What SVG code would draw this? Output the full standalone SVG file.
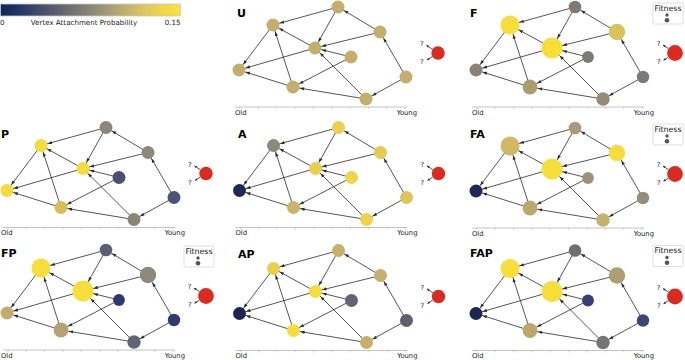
<svg xmlns="http://www.w3.org/2000/svg" xmlns:xlink="http://www.w3.org/1999/xlink" width="685" height="360" viewBox="0 0 685 360">
<style>
text{font-family:"DejaVu Sans","Liberation Sans",sans-serif;fill:#222}
.plabel{font-weight:bold;font-size:11px;fill:#000}
.ax{font-size:6.8px;fill:#222}
.q{font-size:7px;text-anchor:middle;fill:#222}
.e{stroke:#2b2b2b;stroke-width:0.8;fill:none}
.qe{stroke:#2b2b2b;stroke-width:0.8;fill:none;marker-end:url(#q)}
.axl{stroke:#b5b5b5;stroke-width:0.8}
.tk{stroke:#b5b5b5;stroke-width:0.6}
.new{fill:#dd2a1e}
.leg{fill:#fff;stroke:#d5d5d5;stroke-width:0.8}
.ld{fill:#555}
</style>
<defs>
<linearGradient id="cividis" x1="0" y1="0" x2="1" y2="0">
<stop offset="0" stop-color="#0d2650"/>
<stop offset="0.1" stop-color="#1f3566"/>
<stop offset="0.2" stop-color="#3d4a6b"/>
<stop offset="0.3" stop-color="#585e6e"/>
<stop offset="0.4" stop-color="#717173"/>
<stop offset="0.5" stop-color="#8a8678"/>
<stop offset="0.6" stop-color="#a59c74"/>
<stop offset="0.7" stop-color="#c2b26a"/>
<stop offset="0.8" stop-color="#dcc75b"/>
<stop offset="0.9" stop-color="#f0d849"/>
<stop offset="1" stop-color="#f8e23a"/>
</linearGradient>
<marker id="a7" viewBox="-20 -5 20 10" markerWidth="20" markerHeight="10" refX="0" refY="0" orient="auto" markerUnits="userSpaceOnUse" overflow="visible"><path d="M-11.2,-1.6 L-6.9,0 L-11.2,1.6 z" fill="#2b2b2b"/></marker>
<marker id="a8" viewBox="-20 -5 20 10" markerWidth="20" markerHeight="10" refX="0" refY="0" orient="auto" markerUnits="userSpaceOnUse" overflow="visible"><path d="M-12.2,-1.6 L-7.9,0 L-12.2,1.6 z" fill="#2b2b2b"/></marker>
<marker id="a9" viewBox="-20 -5 20 10" markerWidth="20" markerHeight="10" refX="0" refY="0" orient="auto" markerUnits="userSpaceOnUse" overflow="visible"><path d="M-13,-1.6 L-8.7,0 L-13,1.6 z" fill="#2b2b2b"/></marker>
<marker id="a10" viewBox="-20 -5 20 10" markerWidth="20" markerHeight="10" refX="0" refY="0" orient="auto" markerUnits="userSpaceOnUse" overflow="visible"><path d="M-14.2,-1.6 L-9.9,0 L-14.2,1.6 z" fill="#2b2b2b"/></marker>
<marker id="a11" viewBox="-20 -5 20 10" markerWidth="20" markerHeight="10" refX="0" refY="0" orient="auto" markerUnits="userSpaceOnUse" overflow="visible"><path d="M-15.2,-1.6 L-10.9,0 L-15.2,1.6 z" fill="#2b2b2b"/></marker>
<marker id="q" viewBox="-5 -3 5 6" markerWidth="5" markerHeight="6" refX="0" refY="0" orient="auto" markerUnits="userSpaceOnUse" overflow="visible"><path d="M-2.4,-1.2 L0,0 L-2.4,1.2 z" fill="#2b2b2b"/></marker>
</defs>

<g id="colorbar">
<rect x="0.4" y="4" width="180" height="12" fill="url(#cividis)" stroke="#c8c8c8" stroke-width="0.8"/>
<text x="0" y="25.2" style="font-size:7.1px">0</text>
<text x="84" y="25.2" style="font-size:7.1px" text-anchor="middle">Vertex Attachment Probability</text>
<text x="180.5" y="25.2" style="font-size:7.1px" text-anchor="end">0.15</text>
</g>

<g id="panel-labels">
<text class="plabel" x="237" y="17.2">U</text>
<text class="plabel" x="470" y="17.2">F</text>
<text class="plabel" x="1" y="137.6">P</text>
<text class="plabel" x="238" y="138">A</text>
<text class="plabel" x="470" y="138">FA</text>
<text class="plabel" x="1" y="257">FP</text>
<text class="plabel" x="238" y="258">AP</text>
<text class="plabel" x="470" y="257">FAP</text>
</g>

<!-- ============ U ============ -->
<g id="panel-U" transform="translate(0,0)">
<g id="U-axis"><line class="axl" x1="235" y1="107" x2="407" y2="107"/>
<path class="tk" d="M240,107v2M258.3,107v2M276.7,107v2M295,107v2M313.3,107v2M331.7,107v2M350,107v2M368.3,107v2M386.7,107v2M405,107v2"/>
<text class="ax" x="235" y="114.5">Old</text><text class="ax" x="417" y="114.5" text-anchor="end">Young</text></g>
<g id="U-connectors">
<line class="e" x1="338" y1="7" x2="273" y2="25" marker-end="url(#a7)"/>
<line class="e" x1="338" y1="7" x2="315" y2="48" marker-end="url(#a7)"/>
<line class="e" x1="380" y1="32" x2="338" y2="7" marker-end="url(#a7)"/>
<line class="e" x1="380" y1="32" x2="315" y2="48" marker-end="url(#a7)"/>
<line class="e" x1="315" y1="48" x2="273" y2="25" marker-end="url(#a7)"/>
<line class="e" x1="315" y1="48" x2="239" y2="70" marker-end="url(#a7)"/>
<line class="e" x1="273" y1="25" x2="239" y2="70" marker-end="url(#a7)"/>
<line class="e" x1="351" y1="57" x2="315" y2="48" marker-end="url(#a7)"/>
<line class="e" x1="351" y1="57" x2="293" y2="87" marker-end="url(#a7)"/>
<line class="e" x1="293" y1="87" x2="273" y2="25" marker-end="url(#a7)"/>
<line class="e" x1="293" y1="87" x2="239" y2="70" marker-end="url(#a7)"/>
<line class="e" x1="366" y1="99" x2="315" y2="48" marker-end="url(#a7)"/>
<line class="e" x1="366" y1="99" x2="293" y2="87" marker-end="url(#a7)"/>
<line class="e" x1="406" y1="77" x2="380" y2="32" marker-end="url(#a7)"/>
<line class="e" x1="406" y1="77" x2="366" y2="99" marker-end="url(#a7)"/>
</g>
<g id="U-n1"><circle cx="338" cy="7" r="6.5" fill="#c4ae6b"/></g>
<g id="U-n2"><circle cx="273" cy="25" r="6.5" fill="#c4ae6b"/></g>
<g id="U-n3"><circle cx="380" cy="32" r="6.5" fill="#c4ae6b"/></g>
<g id="U-n4"><circle cx="315" cy="48" r="6.5" fill="#c4ae6b"/></g>
<g id="U-n5"><circle cx="351" cy="57" r="6.5" fill="#c4ae6b"/></g>
<g id="U-n6"><circle cx="239" cy="70" r="6.5" fill="#c4ae6b"/></g>
<g id="U-n7"><circle cx="406" cy="77" r="6.5" fill="#c4ae6b"/></g>
<g id="U-n8"><circle cx="293" cy="87" r="6.5" fill="#c4ae6b"/></g>
<g id="U-n9"><circle cx="366" cy="99" r="6.5" fill="#c4ae6b"/></g>
<g id="U-new"><line class="qe" x1="432.4" y1="49.3" x2="426.5" y2="45.3"/><line class="qe" x1="432.3" y1="56.6" x2="427" y2="60"/>
<circle class="new" cx="438" cy="53" r="6.7"/><text class="q" x="421.8" y="46.2">?</text><text class="q" x="421.8" y="64.2">?</text></g>
</g>

<!-- ============ F ============ -->
<g id="panel-F" transform="translate(237,0)">
<g id="F-axis"><line class="axl" x1="235" y1="107" x2="407" y2="107"/>
<path class="tk" d="M240,107v2M258.3,107v2M276.7,107v2M295,107v2M313.3,107v2M331.7,107v2M350,107v2M368.3,107v2M386.7,107v2M405,107v2"/>
<text class="ax" x="235" y="114.5">Old</text><text class="ax" x="417" y="114.5" text-anchor="end">Young</text></g>
<g id="F-legend"><rect class="leg" x="416" y="3" width="30" height="21" rx="1.5"/><text x="431" y="10.6" style="font-size:7.8px" text-anchor="middle">Fitness</text><circle class="ld" cx="430" cy="15" r="1.7"/><circle class="ld" cx="430" cy="20.3" r="2.3"/></g>
<g id="F-connectors">
<line class="e" x1="338" y1="7" x2="273" y2="25" marker-end="url(#a10)"/>
<line class="e" x1="338" y1="7" x2="315" y2="48" marker-end="url(#a11)"/>
<line class="e" x1="380" y1="32" x2="338" y2="7" marker-end="url(#a7)"/>
<line class="e" x1="380" y1="32" x2="315" y2="48" marker-end="url(#a11)"/>
<line class="e" x1="315" y1="48" x2="273" y2="25" marker-end="url(#a10)"/>
<line class="e" x1="315" y1="48" x2="239" y2="70" marker-end="url(#a7)"/>
<line class="e" x1="273" y1="25" x2="239" y2="70" marker-end="url(#a7)"/>
<line class="e" x1="351" y1="57" x2="315" y2="48" marker-end="url(#a11)"/>
<line class="e" x1="351" y1="57" x2="293" y2="87" marker-end="url(#a8)"/>
<line class="e" x1="293" y1="87" x2="273" y2="25" marker-end="url(#a10)"/>
<line class="e" x1="293" y1="87" x2="239" y2="70" marker-end="url(#a7)"/>
<line class="e" x1="366" y1="99" x2="315" y2="48" marker-end="url(#a11)"/>
<line class="e" x1="366" y1="99" x2="293" y2="87" marker-end="url(#a8)"/>
<line class="e" x1="406" y1="77" x2="380" y2="32" marker-end="url(#a9)"/>
<line class="e" x1="406" y1="77" x2="366" y2="99" marker-end="url(#a7)"/>
</g>
<g id="F-n1"><circle cx="338" cy="7" r="6.3" fill="#7f7b74"/></g>
<g id="F-n2"><circle cx="273" cy="25" r="9.5" fill="#f7df3a"/></g>
<g id="F-n3"><circle cx="380" cy="32" r="8.2" fill="#d8c25a"/></g>
<g id="F-n4"><circle cx="315" cy="48" r="10.5" fill="#f7df3a"/></g>
<g id="F-n5"><circle cx="351" cy="57" r="5.9" fill="#7d7a74"/></g>
<g id="F-n6"><circle cx="239" cy="70" r="6.5" fill="#8b8372"/></g>
<g id="F-n7"><circle cx="406" cy="77" r="6.2" fill="#7e7b75"/></g>
<g id="F-n8"><circle cx="293" cy="87" r="7.4" fill="#ab9d6e"/></g>
<g id="F-n9"><circle cx="366" cy="99" r="6.7" fill="#968c74"/></g>
<g id="F-new"><line class="qe" x1="431.4" y1="48.6" x2="426" y2="45"/><line class="qe" x1="431.3" y1="57.2" x2="426.5" y2="60.3"/>
<circle class="new" cx="438" cy="53" r="7.9"/><text class="q" x="421.5" y="46">?</text><text class="q" x="421.8" y="64">?</text></g>
</g>

<!-- ============ P ============ -->
<g id="panel-P" transform="translate(-232,120.5)">
<g id="P-axis"><line class="axl" x1="235" y1="107" x2="407" y2="107"/>
<path class="tk" d="M240,107v2M258.3,107v2M276.7,107v2M295,107v2M313.3,107v2M331.7,107v2M350,107v2M368.3,107v2M386.7,107v2M405,107v2"/>
<text class="ax" x="233" y="114.5">Old</text><text class="ax" x="417" y="114.5" text-anchor="end">Young</text></g>
<g id="P-connectors">
<line class="e" x1="338" y1="7" x2="273" y2="25" marker-end="url(#a7)"/>
<line class="e" x1="338" y1="7" x2="315" y2="48" marker-end="url(#a7)"/>
<line class="e" x1="380" y1="32" x2="338" y2="7" marker-end="url(#a7)"/>
<line class="e" x1="380" y1="32" x2="315" y2="48" marker-end="url(#a7)"/>
<line class="e" x1="315" y1="48" x2="273" y2="25" marker-end="url(#a7)"/>
<line class="e" x1="315" y1="48" x2="239" y2="70" marker-end="url(#a7)"/>
<line class="e" x1="273" y1="25" x2="239" y2="70" marker-end="url(#a7)"/>
<line class="e" x1="351" y1="57" x2="315" y2="48" marker-end="url(#a7)"/>
<line class="e" x1="351" y1="57" x2="293" y2="87" marker-end="url(#a7)"/>
<line class="e" x1="293" y1="87" x2="273" y2="25" marker-end="url(#a7)"/>
<line class="e" x1="293" y1="87" x2="239" y2="70" marker-end="url(#a7)"/>
<line class="e" x1="366" y1="99" x2="315" y2="48" marker-end="url(#a7)"/>
<line class="e" x1="366" y1="99" x2="293" y2="87" marker-end="url(#a7)"/>
<line class="e" x1="406" y1="77" x2="380" y2="32" marker-end="url(#a7)"/>
<line class="e" x1="406" y1="77" x2="366" y2="99" marker-end="url(#a7)"/>
</g>
<g id="P-n1"><circle cx="338" cy="7" r="6.5" fill="#8b8675"/></g>
<g id="P-n2"><circle cx="273" cy="25" r="6.5" fill="#f5dc3b"/></g>
<g id="P-n3"><circle cx="380" cy="32" r="6.5" fill="#8d8877"/></g>
<g id="P-n4"><circle cx="315" cy="48" r="6.5" fill="#f5dc3b"/></g>
<g id="P-n5"><circle cx="351" cy="57" r="6.5" fill="#4a5073"/></g>
<g id="P-n6"><circle cx="239" cy="70" r="6.5" fill="#f5dc3b"/></g>
<g id="P-n7"><circle cx="406" cy="77" r="6.5" fill="#4c5376"/></g>
<g id="P-n8"><circle cx="293" cy="87" r="6.5" fill="#d6c055"/></g>
<g id="P-n9"><circle cx="366" cy="99" r="6.5" fill="#8b8674"/></g>
<g id="P-new"><line class="qe" x1="432.4" y1="49.3" x2="426.5" y2="45.3"/><line class="qe" x1="432.3" y1="56.6" x2="427" y2="60"/>
<circle class="new" cx="438" cy="53" r="6.7"/><text class="q" x="421.8" y="46.2">?</text><text class="q" x="421.8" y="64.2">?</text></g>
</g>

<!-- ============ A ============ -->
<g id="panel-A" transform="translate(0.5,120.5)">
<g id="A-axis"><line class="axl" x1="235" y1="107" x2="407" y2="107"/>
<path class="tk" d="M240,107v2M258.3,107v2M276.7,107v2M295,107v2M313.3,107v2M331.7,107v2M350,107v2M368.3,107v2M386.7,107v2M405,107v2"/>
<text class="ax" x="235" y="114.5">Old</text><text class="ax" x="417" y="114.5" text-anchor="end">Young</text></g>
<g id="A-connectors">
<line class="e" x1="338" y1="7" x2="273" y2="25" marker-end="url(#a7)"/>
<line class="e" x1="338" y1="7" x2="315" y2="48" marker-end="url(#a7)"/>
<line class="e" x1="380" y1="32" x2="338" y2="7" marker-end="url(#a7)"/>
<line class="e" x1="380" y1="32" x2="315" y2="48" marker-end="url(#a7)"/>
<line class="e" x1="315" y1="48" x2="273" y2="25" marker-end="url(#a7)"/>
<line class="e" x1="315" y1="48" x2="239" y2="70" marker-end="url(#a7)"/>
<line class="e" x1="273" y1="25" x2="239" y2="70" marker-end="url(#a7)"/>
<line class="e" x1="351" y1="57" x2="315" y2="48" marker-end="url(#a7)"/>
<line class="e" x1="351" y1="57" x2="293" y2="87" marker-end="url(#a7)"/>
<line class="e" x1="293" y1="87" x2="273" y2="25" marker-end="url(#a7)"/>
<line class="e" x1="293" y1="87" x2="239" y2="70" marker-end="url(#a7)"/>
<line class="e" x1="366" y1="99" x2="315" y2="48" marker-end="url(#a7)"/>
<line class="e" x1="366" y1="99" x2="293" y2="87" marker-end="url(#a7)"/>
<line class="e" x1="406" y1="77" x2="380" y2="32" marker-end="url(#a7)"/>
<line class="e" x1="406" y1="77" x2="366" y2="99" marker-end="url(#a7)"/>
</g>
<g id="A-n1"><circle cx="338" cy="7" r="6.5" fill="#ead04c"/></g>
<g id="A-n2"><circle cx="273" cy="25" r="6.5" fill="#8d8878"/></g>
<g id="A-n3"><circle cx="380" cy="32" r="6.5" fill="#e3cb54"/></g>
<g id="A-n4"><circle cx="315" cy="48" r="6.5" fill="#e8cf4c"/></g>
<g id="A-n5"><circle cx="351" cy="57" r="6.5" fill="#efd649"/></g>
<g id="A-n6"><circle cx="239" cy="70" r="6.5" fill="#1e2a55"/></g>
<g id="A-n7"><circle cx="406" cy="77" r="6.5" fill="#dcc55a"/></g>
<g id="A-n8"><circle cx="293" cy="87" r="6.5" fill="#c9b565"/></g>
<g id="A-n9"><circle cx="366" cy="99" r="6.5" fill="#ecd348"/></g>
<g id="A-new"><line class="qe" x1="432.4" y1="49.3" x2="426.5" y2="45.3"/><line class="qe" x1="432.3" y1="56.6" x2="427" y2="60"/>
<circle class="new" cx="438" cy="53" r="6.7"/><text class="q" x="421.8" y="46.2">?</text><text class="q" x="421.8" y="64.2">?</text></g>
</g>

<!-- ============ FA ============ -->
<g id="panel-FA" transform="translate(237,121)">
<g id="FA-axis"><line class="axl" x1="235" y1="107" x2="407" y2="107"/>
<path class="tk" d="M240,107v2M258.3,107v2M276.7,107v2M295,107v2M313.3,107v2M331.7,107v2M350,107v2M368.3,107v2M386.7,107v2M405,107v2"/>
<text class="ax" x="235" y="114.5">Old</text><text class="ax" x="417" y="114.5" text-anchor="end">Young</text></g>
<g id="FA-legend"><rect class="leg" x="416" y="3" width="30" height="21" rx="1.5"/><text x="431" y="10.6" style="font-size:7.8px" text-anchor="middle">Fitness</text><circle class="ld" cx="430" cy="15" r="1.7"/><circle class="ld" cx="430" cy="20.3" r="2.3"/></g>
<g id="FA-connectors">
<line class="e" x1="338" y1="7" x2="273" y2="25" marker-end="url(#a10)"/>
<line class="e" x1="338" y1="7" x2="315" y2="48" marker-end="url(#a11)"/>
<line class="e" x1="380" y1="32" x2="338" y2="7" marker-end="url(#a7)"/>
<line class="e" x1="380" y1="32" x2="315" y2="48" marker-end="url(#a11)"/>
<line class="e" x1="315" y1="48" x2="273" y2="25" marker-end="url(#a10)"/>
<line class="e" x1="315" y1="48" x2="239" y2="70" marker-end="url(#a7)"/>
<line class="e" x1="273" y1="25" x2="239" y2="70" marker-end="url(#a7)"/>
<line class="e" x1="351" y1="57" x2="315" y2="48" marker-end="url(#a11)"/>
<line class="e" x1="351" y1="57" x2="293" y2="87" marker-end="url(#a8)"/>
<line class="e" x1="293" y1="87" x2="273" y2="25" marker-end="url(#a10)"/>
<line class="e" x1="293" y1="87" x2="239" y2="70" marker-end="url(#a7)"/>
<line class="e" x1="366" y1="99" x2="315" y2="48" marker-end="url(#a11)"/>
<line class="e" x1="366" y1="99" x2="293" y2="87" marker-end="url(#a8)"/>
<line class="e" x1="406" y1="77" x2="380" y2="32" marker-end="url(#a9)"/>
<line class="e" x1="406" y1="77" x2="366" y2="99" marker-end="url(#a7)"/>
</g>
<g id="FA-n1"><circle cx="338" cy="7" r="6.3" fill="#a99b77"/></g>
<g id="FA-n2"><circle cx="273" cy="25" r="9.5" fill="#cfb962"/></g>
<g id="FA-n3"><circle cx="380" cy="32" r="8.2" fill="#f7dd39"/></g>
<g id="FA-n4"><circle cx="315" cy="48" r="10.5" fill="#f7df3a"/></g>
<g id="FA-n5"><circle cx="351" cy="57" r="5.9" fill="#9d937a"/></g>
<g id="FA-n6"><circle cx="239" cy="70" r="6.5" fill="#1e2a55"/></g>
<g id="FA-n7"><circle cx="406" cy="77" r="6.2" fill="#958c79"/></g>
<g id="FA-n8"><circle cx="293" cy="87" r="7.4" fill="#bba86b"/></g>
<g id="FA-n9"><circle cx="366" cy="99" r="6.7" fill="#c6b168"/></g>
<g id="FA-new"><line class="qe" x1="431.4" y1="48.6" x2="426" y2="45"/><line class="qe" x1="431.3" y1="57.2" x2="426.5" y2="60.3"/>
<circle class="new" cx="438" cy="53" r="7.9"/><text class="q" x="421.5" y="46">?</text><text class="q" x="421.8" y="64">?</text></g>
</g>

<!-- ============ FP ============ -->
<g id="panel-FP" transform="translate(-232,243)">
<g id="FP-axis"><line class="axl" x1="235" y1="107" x2="407" y2="107"/>
<path class="tk" d="M240,107v2M258.3,107v2M276.7,107v2M295,107v2M313.3,107v2M331.7,107v2M350,107v2M368.3,107v2M386.7,107v2M405,107v2"/>
<text class="ax" x="233" y="114.5">Old</text><text class="ax" x="417" y="114.5" text-anchor="end">Young</text></g>
<g id="FP-legend"><rect class="leg" x="416" y="3" width="30" height="21" rx="1.5"/><text x="431" y="10.6" style="font-size:7.8px" text-anchor="middle">Fitness</text><circle class="ld" cx="430" cy="15" r="1.7"/><circle class="ld" cx="430" cy="20.3" r="2.3"/></g>
<g id="FP-connectors">
<line class="e" x1="338" y1="7" x2="273" y2="25" marker-end="url(#a10)"/>
<line class="e" x1="338" y1="7" x2="315" y2="48" marker-end="url(#a11)"/>
<line class="e" x1="380" y1="32" x2="338" y2="7" marker-end="url(#a7)"/>
<line class="e" x1="380" y1="32" x2="315" y2="48" marker-end="url(#a11)"/>
<line class="e" x1="315" y1="48" x2="273" y2="25" marker-end="url(#a10)"/>
<line class="e" x1="315" y1="48" x2="239" y2="70" marker-end="url(#a7)"/>
<line class="e" x1="273" y1="25" x2="239" y2="70" marker-end="url(#a7)"/>
<line class="e" x1="351" y1="57" x2="315" y2="48" marker-end="url(#a11)"/>
<line class="e" x1="351" y1="57" x2="293" y2="87" marker-end="url(#a8)"/>
<line class="e" x1="293" y1="87" x2="273" y2="25" marker-end="url(#a10)"/>
<line class="e" x1="293" y1="87" x2="239" y2="70" marker-end="url(#a7)"/>
<line class="e" x1="366" y1="99" x2="315" y2="48" marker-end="url(#a11)"/>
<line class="e" x1="366" y1="99" x2="293" y2="87" marker-end="url(#a8)"/>
<line class="e" x1="406" y1="77" x2="380" y2="32" marker-end="url(#a9)"/>
<line class="e" x1="406" y1="77" x2="366" y2="99" marker-end="url(#a7)"/>
</g>
<g id="FP-n1"><circle cx="338" cy="7" r="6.3" fill="#5b5f71"/></g>
<g id="FP-n2"><circle cx="273" cy="25" r="9.5" fill="#f7df3a"/></g>
<g id="FP-n3"><circle cx="380" cy="32" r="8.2" fill="#8f8979"/></g>
<g id="FP-n4"><circle cx="315" cy="48" r="10.5" fill="#f7df3a"/></g>
<g id="FP-n5"><circle cx="351" cy="57" r="5.9" fill="#2d3871"/></g>
<g id="FP-n6"><circle cx="239" cy="70" r="6.5" fill="#c0ad6d"/></g>
<g id="FP-n7"><circle cx="406" cy="77" r="6.2" fill="#2f3a6f"/></g>
<g id="FP-n8"><circle cx="293" cy="87" r="7.4" fill="#b4a371"/></g>
<g id="FP-n9"><circle cx="366" cy="99" r="6.7" fill="#636571"/></g>
<g id="FP-new"><line class="qe" x1="431.4" y1="48.6" x2="426" y2="45"/><line class="qe" x1="431.3" y1="57.2" x2="426.5" y2="60.3"/>
<circle class="new" cx="438" cy="53" r="7.9"/><text class="q" x="421.5" y="46">?</text><text class="q" x="421.8" y="64">?</text></g>
</g>

<!-- ============ AP ============ -->
<g id="panel-AP" transform="translate(0.5,243.5)">
<g id="AP-axis"><line class="axl" x1="235" y1="107" x2="407" y2="107"/>
<path class="tk" d="M240,107v2M258.3,107v2M276.7,107v2M295,107v2M313.3,107v2M331.7,107v2M350,107v2M368.3,107v2M386.7,107v2M405,107v2"/>
<text class="ax" x="235" y="114.5">Old</text><text class="ax" x="417" y="114.5" text-anchor="end">Young</text></g>
<g id="AP-connectors">
<line class="e" x1="338" y1="7" x2="273" y2="25" marker-end="url(#a7)"/>
<line class="e" x1="338" y1="7" x2="315" y2="48" marker-end="url(#a7)"/>
<line class="e" x1="380" y1="32" x2="338" y2="7" marker-end="url(#a7)"/>
<line class="e" x1="380" y1="32" x2="315" y2="48" marker-end="url(#a7)"/>
<line class="e" x1="315" y1="48" x2="273" y2="25" marker-end="url(#a7)"/>
<line class="e" x1="315" y1="48" x2="239" y2="70" marker-end="url(#a7)"/>
<line class="e" x1="273" y1="25" x2="239" y2="70" marker-end="url(#a7)"/>
<line class="e" x1="351" y1="57" x2="315" y2="48" marker-end="url(#a7)"/>
<line class="e" x1="351" y1="57" x2="293" y2="87" marker-end="url(#a7)"/>
<line class="e" x1="293" y1="87" x2="273" y2="25" marker-end="url(#a7)"/>
<line class="e" x1="293" y1="87" x2="239" y2="70" marker-end="url(#a7)"/>
<line class="e" x1="366" y1="99" x2="315" y2="48" marker-end="url(#a7)"/>
<line class="e" x1="366" y1="99" x2="293" y2="87" marker-end="url(#a7)"/>
<line class="e" x1="406" y1="77" x2="380" y2="32" marker-end="url(#a7)"/>
<line class="e" x1="406" y1="77" x2="366" y2="99" marker-end="url(#a7)"/>
</g>
<g id="AP-n1"><circle cx="338" cy="7" r="6.5" fill="#c6b06c"/></g>
<g id="AP-n2"><circle cx="273" cy="25" r="6.5" fill="#e9d04a"/></g>
<g id="AP-n3"><circle cx="380" cy="32" r="6.5" fill="#c6b06c"/></g>
<g id="AP-n4"><circle cx="315" cy="48" r="6.5" fill="#f7dd39"/></g>
<g id="AP-n5"><circle cx="351" cy="57" r="6.5" fill="#636471"/></g>
<g id="AP-n6"><circle cx="239" cy="70" r="6.5" fill="#1c2652"/></g>
<g id="AP-n7"><circle cx="406" cy="77" r="6.5" fill="#5e6072"/></g>
<g id="AP-n8"><circle cx="293" cy="87" r="6.5" fill="#f7dd39"/></g>
<g id="AP-n9"><circle cx="366" cy="99" r="6.5" fill="#c6b06c"/></g>
<g id="AP-new"><line class="qe" x1="432.4" y1="49.3" x2="426.5" y2="45.3"/><line class="qe" x1="432.3" y1="56.6" x2="427" y2="60"/>
<circle class="new" cx="438" cy="53" r="6.7"/><text class="q" x="421.8" y="46.2">?</text><text class="q" x="421.8" y="64.2">?</text></g>
</g>

<!-- ============ FAP ============ -->
<g id="panel-FAP" transform="translate(237,243.5)">
<g id="FAP-axis"><line class="axl" x1="235" y1="107" x2="407" y2="107"/>
<path class="tk" d="M240,107v2M258.3,107v2M276.7,107v2M295,107v2M313.3,107v2M331.7,107v2M350,107v2M368.3,107v2M386.7,107v2M405,107v2"/>
<text class="ax" x="235" y="114.5">Old</text><text class="ax" x="417" y="114.5" text-anchor="end">Young</text></g>
<g id="FAP-legend"><rect class="leg" x="416" y="2" width="30" height="21" rx="1.5"/><text x="431" y="9.6" style="font-size:7.8px" text-anchor="middle">Fitness</text><circle class="ld" cx="430" cy="14" r="1.7"/><circle class="ld" cx="430" cy="19.3" r="2.3"/></g>
<g id="FAP-connectors">
<line class="e" x1="338" y1="7" x2="273" y2="25" marker-end="url(#a10)"/>
<line class="e" x1="338" y1="7" x2="315" y2="48" marker-end="url(#a11)"/>
<line class="e" x1="380" y1="32" x2="338" y2="7" marker-end="url(#a7)"/>
<line class="e" x1="380" y1="32" x2="315" y2="48" marker-end="url(#a11)"/>
<line class="e" x1="315" y1="48" x2="273" y2="25" marker-end="url(#a10)"/>
<line class="e" x1="315" y1="48" x2="239" y2="70" marker-end="url(#a7)"/>
<line class="e" x1="273" y1="25" x2="239" y2="70" marker-end="url(#a7)"/>
<line class="e" x1="351" y1="57" x2="315" y2="48" marker-end="url(#a11)"/>
<line class="e" x1="351" y1="57" x2="293" y2="87" marker-end="url(#a8)"/>
<line class="e" x1="293" y1="87" x2="273" y2="25" marker-end="url(#a10)"/>
<line class="e" x1="293" y1="87" x2="239" y2="70" marker-end="url(#a7)"/>
<line class="e" x1="366" y1="99" x2="315" y2="48" marker-end="url(#a11)"/>
<line class="e" x1="366" y1="99" x2="293" y2="87" marker-end="url(#a8)"/>
<line class="e" x1="406" y1="77" x2="380" y2="32" marker-end="url(#a9)"/>
<line class="e" x1="406" y1="77" x2="366" y2="99" marker-end="url(#a7)"/>
</g>
<g id="FAP-n1"><circle cx="338" cy="7" r="6.3" fill="#6f6f71"/></g>
<g id="FAP-n2"><circle cx="273" cy="25" r="9.5" fill="#f7df3a"/></g>
<g id="FAP-n3"><circle cx="380" cy="32" r="8.2" fill="#ae9f73"/></g>
<g id="FAP-n4"><circle cx="315" cy="48" r="10.5" fill="#f7df3a"/></g>
<g id="FAP-n5"><circle cx="351" cy="57" r="5.9" fill="#373f73"/></g>
<g id="FAP-n6"><circle cx="239" cy="70" r="6.5" fill="#1e2752"/></g>
<g id="FAP-n7"><circle cx="406" cy="77" r="6.2" fill="#3e4677"/></g>
<g id="FAP-n8"><circle cx="293" cy="87" r="7.4" fill="#b9a76c"/></g>
<g id="FAP-n9"><circle cx="366" cy="99" r="6.7" fill="#767576"/></g>
<g id="FAP-new"><line class="qe" x1="431.4" y1="48.6" x2="426" y2="45"/><line class="qe" x1="431.3" y1="57.2" x2="426.5" y2="60.3"/>
<circle class="new" cx="438" cy="53" r="7.9"/><text class="q" x="421.5" y="46">?</text><text class="q" x="421.8" y="64">?</text></g>
</g>
</svg>
